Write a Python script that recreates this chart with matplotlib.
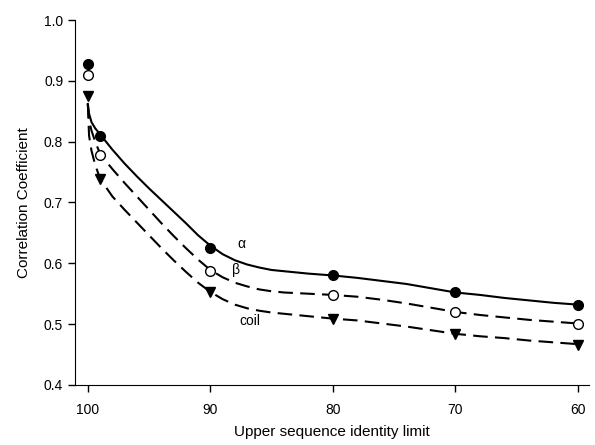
import matplotlib
matplotlib.use("Agg")
import matplotlib.pyplot as plt

plt.rcParams["font.family"] = ["Liberation Sans", "DejaVu Sans"]

# measured points
x_pts = [100, 99, 90, 80, 70, 60]
alpha_pts = [0.928, 0.810, 0.625, 0.580, 0.552, 0.532]
beta_pts = [0.910, 0.778, 0.588, 0.548, 0.520, 0.501]
coil_pts = [0.875, 0.738, 0.552, 0.509, 0.484, 0.466]

# fitted curves
x_fit = [100, 99.9, 99.7, 99.4, 99, 98, 97, 96, 95, 94, 93, 92, 91, 90,
         89, 88, 87, 86, 85, 84, 82, 80, 78, 76, 74, 72, 70, 68, 66, 64, 62, 60]
alpha_fit = [0.862, 0.846, 0.832, 0.822, 0.812, 0.787, 0.764, 0.743, 0.723,
             0.704, 0.685, 0.666, 0.646, 0.629, 0.615, 0.605, 0.598, 0.593,
             0.589, 0.587, 0.583, 0.580, 0.576, 0.571, 0.566, 0.559, 0.552,
             0.548, 0.543, 0.539, 0.535, 0.532]
beta_fit = [0.862, 0.835, 0.818, 0.800, 0.780, 0.755, 0.732, 0.710, 0.688,
            0.666, 0.645, 0.625, 0.606, 0.589, 0.577, 0.568, 0.562, 0.557,
            0.554, 0.552, 0.550, 0.548, 0.545, 0.540, 0.534, 0.527, 0.520,
            0.515, 0.511, 0.507, 0.504, 0.501]
coil_fit = [0.862, 0.810, 0.785, 0.762, 0.739, 0.710, 0.688, 0.667, 0.646,
            0.625, 0.605, 0.586, 0.568, 0.553, 0.541, 0.532, 0.526, 0.522,
            0.519, 0.517, 0.513, 0.509, 0.506, 0.501, 0.496, 0.490, 0.484,
            0.480, 0.477, 0.473, 0.470, 0.467]

fig = plt.figure(figsize=(5.95, 4.45), dpi=100)
ax = fig.add_axes([0.126, 0.135, 0.864, 0.82])

ax.plot(x_fit, alpha_fit, color="black", lw=1.5)
ax.plot(x_fit, beta_fit, color="black", lw=1.5, dashes=(7, 3.5))
ax.plot(x_fit, coil_fit, color="black", lw=1.5, dashes=(7, 3.5))

ax.plot(x_pts, alpha_pts, "o", color="black", ms=7, ls="none")
ax.plot(x_pts, beta_pts, "o", mfc="white", mec="black", mew=1.0, ms=7, ls="none")
ax.plot(x_pts, coil_pts, "v", color="black", ms=7, ls="none")

ax.text(87.5, 0.631, "\u03b1", fontsize=10, ha="center", va="center")
ax.text(87.9, 0.589, "\u03b2", fontsize=10, ha="center", va="center")
ax.text(86.8, 0.505, "coil", fontsize=10, ha="center", va="center")

ax.set_xlim(101.05, 59.1)
ax.set_ylim(0.4, 1.0)
ax.set_xticks([100, 90, 80, 70, 60])
ax.set_yticks([0.4, 0.5, 0.6, 0.7, 0.8, 0.9, 1.0])
ax.set_yticklabels(["0.4", "0.5", "0.6", "0.7", "0.8", "0.9", "1.0"])
ax.tick_params(direction="out", length=5, width=1, labelsize=10)
ax.tick_params(axis="x", pad=8)
ax.spines["top"].set_visible(False)
ax.spines["right"].set_visible(False)

ax.set_xlabel("Upper sequence identity limit", fontsize=11, labelpad=6)
ax.set_ylabel("Correlation Coefficient", fontsize=11, labelpad=9)

fig.savefig("out.png", dpi=100)
